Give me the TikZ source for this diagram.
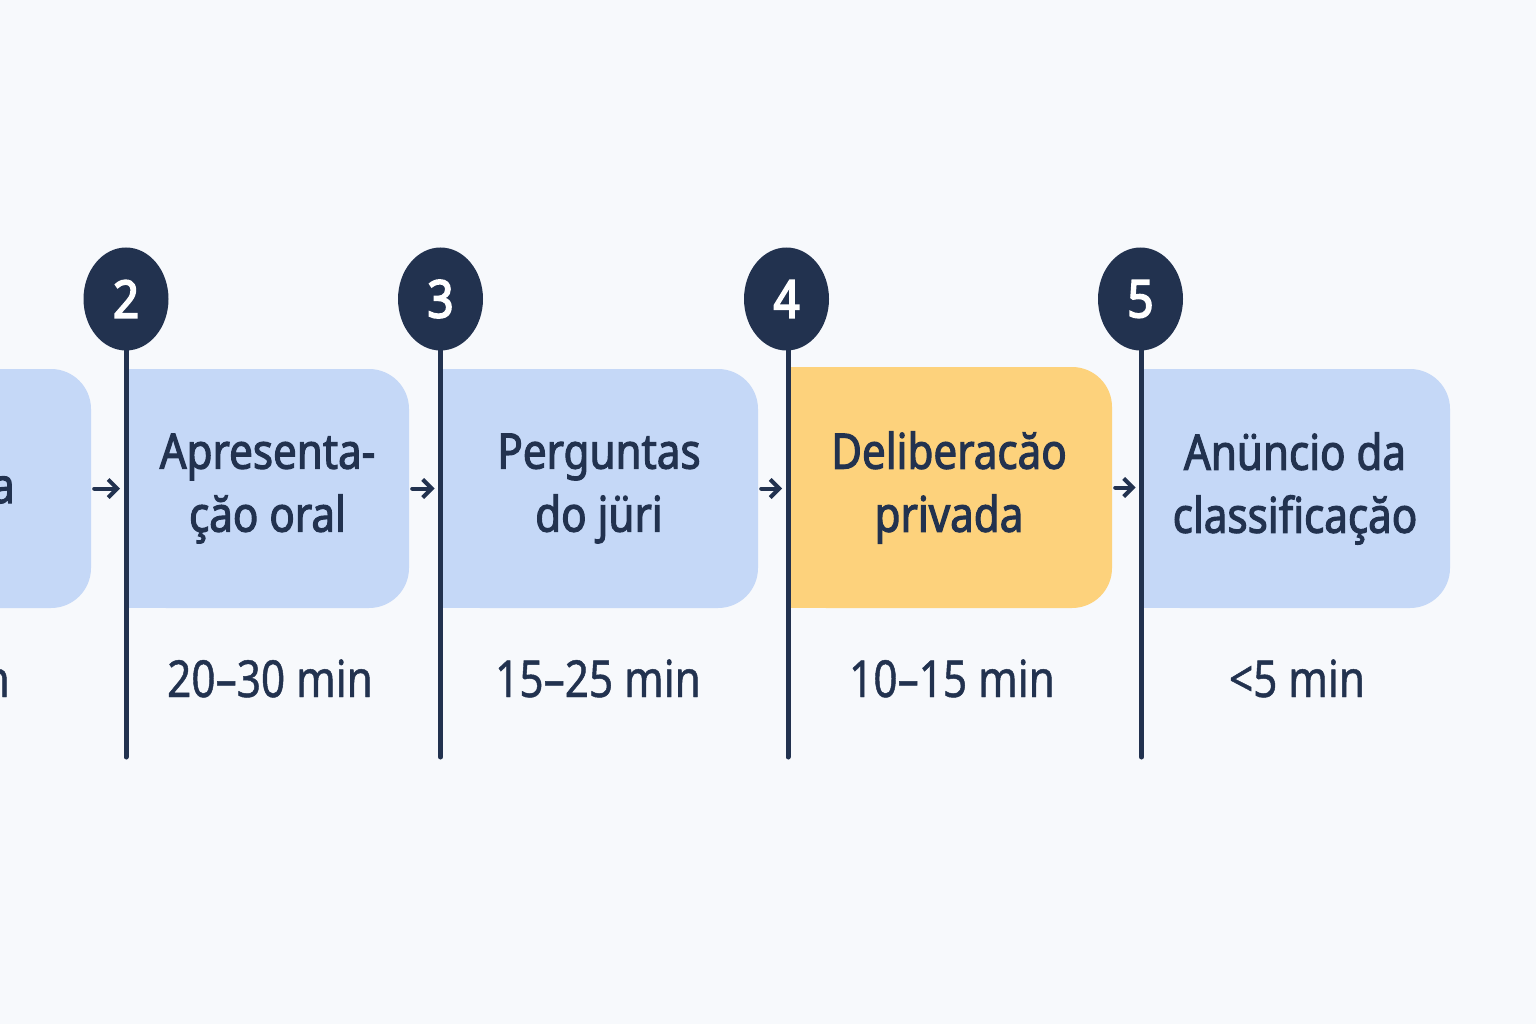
\documentclass[tikz,border=0pt]{standalone}
\usepackage{fontspec}
\setmainfont{Noto Sans}[FakeStretch=0.87]
\newfontfamily\titlefont{Noto Sans}[FakeStretch=0.86,FakeBold=2.2]
\newfontfamily\durfont{Noto Sans}[FakeStretch=0.83,FakeBold=0.9]
\newfontfamily\numfont{Noto Sans}[FakeStretch=0.88,FakeBold=3.2]
\usetikzlibrary{shapes.geometric,arrows.meta}
\definecolor{bgcol}{HTML}{F7F9FC}
\definecolor{boxblue}{HTML}{C5D8F7}
\definecolor{boxyellow}{HTML}{FDD27C}
\definecolor{navy}{HTML}{22324F}
\pgfdeclarelayer{back}
\pgfdeclarelayer{patch}
\pgfsetlayers{back,patch,main}
\tikzset{
  stage/.style={rounded corners=40pt, minimum height=239pt, inner sep=0pt,
    text=navy, font=\titlefont\fontsize{49}{63}\selectfont, align=center},
  dur/.style={anchor=base, text=navy, inner sep=0pt, font=\durfont\fontsize{51}{51}\selectfont},
  num/.style={ellipse, fill=navy, minimum width=85pt, minimum height=103pt,
    inner sep=0pt, text=white, font=\numfont\fontsize{52}{52}\selectfont},
  stem/.style={draw=navy, line width=5pt, line cap=round},
  flow/.style={draw=navy, line width=4pt, line cap=round, line join=round,
    -{Straight Barb[length=9pt,width=18pt,line width=4pt]}}
}
\begin{document}
\begin{tikzpicture}[x=1pt,y=-1pt]
\begin{pgfonlayer}{back}
\fill[bgcol] (0,0) rectangle (1536,1024);
\end{pgfonlayer}
\useasboundingbox (0,0) rectangle (1536,1024);
\clip (0,0) rectangle (1536,1024);

% boxes
\node[stage, fill=boxblue, minimum width=291pt] (b1) at (-54.5,488.5) {};
\node[stage, fill=boxblue, minimum width=283pt] (b2) at (267.5,488.5) {Apresenta-\\çăo oral};
\node[stage, fill=boxblue, minimum width=318pt] (b3) at (599,488.5) {Perguntas\\do jüri};
\node[stage, fill=boxyellow, minimum width=326pt, minimum height=241pt] (b4) at (949,487.5) {Deliberacăo\\privada};
\node[stage, fill=boxblue, minimum width=310pt] (b5) at (1295,488.5) {Anüncio da\\classificaçăo};
\node[anchor=base east, inner sep=0pt, text=navy, font=\titlefont\fontsize{49}{63}\selectfont] (t1) at (15,503) {a};

% square left corners
\begin{pgfonlayer}{patch}
\fill[boxblue] (b2.north west) rectangle ([xshift=45pt]b2.south west);
\fill[boxblue] (b3.north west) rectangle ([xshift=45pt]b3.south west);
\fill[boxyellow] (b4.north west) rectangle ([xshift=45pt]b4.south west);
\fill[boxblue] (b5.north west) rectangle ([xshift=45pt]b5.south west);
\end{pgfonlayer}

% durations
\node[dur, anchor=base east] (d1) at (10,697) {n};
\node[dur] (d2) at (270,697) {20–30 min};
\node[dur] (d3) at (598,697) {15–25 min};
\node[dur] (d4) at (952,697) {10–15 min};
\node[dur] (d5) at (1297,697) {<5 min};

% markers
\node[num] (c2) at (126,299) {2};
\node[num] (c3) at (440.5,299) {3};
\node[num] (c4) at (786.5,299) {4};
\node[num] (c5) at (1140.5,299) {5};

\coordinate (e2) at (126,757);
\coordinate (e3) at (440.5,757);
\coordinate (e4) at (788,757);
\coordinate (e5) at (1141.5,757);
\draw[stem] (c2.south) -- (e2);
\draw[stem] (c3.south) -- (e3);
\draw[stem] ([xshift=1.5pt]c4.south) -- (e4);
\draw[stem] ([xshift=1pt]c5.south) -- (e5);

% arrows
\draw[flow] ([xshift=3pt]b1.east) -- ([xshift=-6pt]e2 |- b1.east);
\draw[flow] ([xshift=3pt]b2.east) -- ([xshift=-6pt]e3 |- b2.east);
\draw[flow] ([xshift=3pt]b3.east) -- ([xshift=-6pt]e4 |- b3.east);
\draw[flow] ([xshift=3pt]b4.east) -- ([xshift=-6pt]e5 |- b4.east);
\end{tikzpicture}
\end{document}
